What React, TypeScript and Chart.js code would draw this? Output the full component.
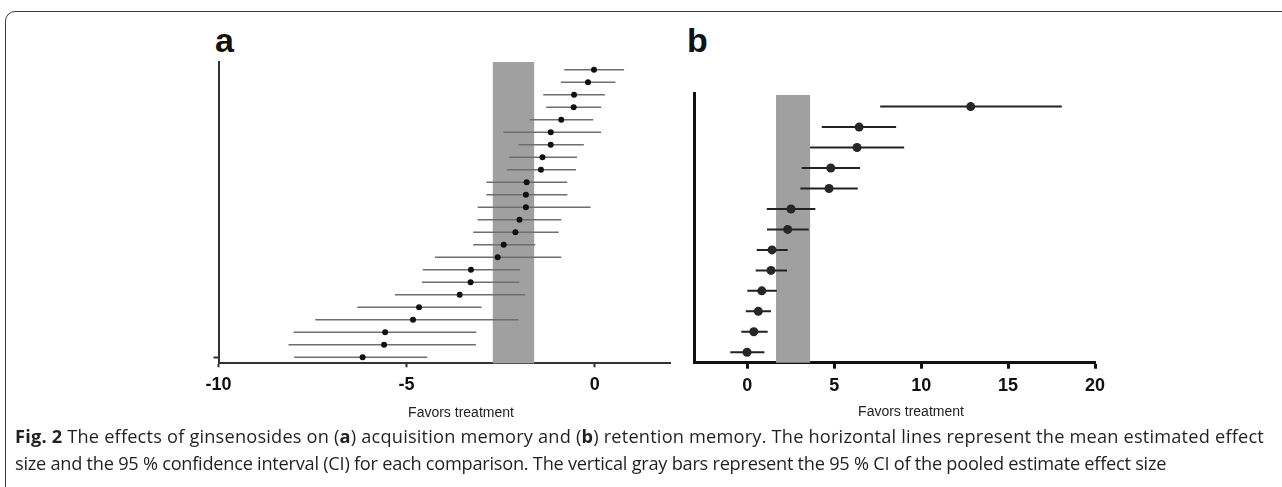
import React, { useEffect, useRef } from "react";
import { Chart, registerables } from "chart.js";

Chart.register(...registerables);

// ---------- Panel a: acquisition memory (rows listed top to bottom) ----------
const meanA = [-0.02, -0.18, -0.55, -0.56, -0.89, -1.17, -1.17, -1.39, -1.43, -1.81, -1.83, -1.83, -2.0, -2.11, -2.42, -2.58, -3.29, -3.3, -3.59, -4.67, -4.83, -5.57, -5.6, -6.17];
const lowA = [-0.81, -0.9, -1.37, -1.29, -1.73, -2.43, -2.03, -2.27, -2.33, -2.88, -2.88, -3.11, -3.11, -3.23, -3.23, -4.25, -4.57, -4.59, -5.31, -6.31, -7.43, -8.0, -8.14, -7.99];
const highA = [0.78, 0.55, 0.27, 0.17, -0.04, 0.17, -0.29, -0.47, -0.5, -0.73, -0.73, -0.11, -0.89, -0.96, -1.58, -0.89, -1.99, -2.0, -1.85, -3.01, -2.03, -3.15, -3.16, -4.45];
const pooledA = [-2.71, -1.61];
const ticksA = [-10, -5, 0];
const yTicksA = [0];

// ---------- Panel b: retention memory (rows listed top to bottom) ----------
const meanB = [12.85, 6.43, 6.31, 4.8, 4.7, 2.51, 2.32, 1.42, 1.36, 0.83, 0.63, 0.37, -0.02];
const lowB = [7.64, 4.28, 3.61, 3.13, 3.05, 1.12, 1.13, 0.54, 0.48, 0.0, -0.09, -0.35, -0.98];
const highB = [18.09, 8.56, 9.02, 6.48, 6.35, 3.91, 3.53, 2.32, 2.28, 1.69, 1.36, 1.17, 0.98];
const pooledB = [1.65, 3.61];
const ticksB = [0, 5, 10, 15, 20];
const yTicksB: number[] = [];

const axisTitle = "Favors treatment";

const bandPlugin = {
  id: "pooledBand",
  beforeDatasetsDraw(chart: any, _args: any, opts: any) {
    const { ctx, chartArea, scales } = chart;
    const x = scales.x;
    const y = scales.y;
    const x0 = x.getPixelForValue(opts.range[0]);
    const x1 = x.getPixelForValue(opts.range[1]);
    const top = Math.max(chartArea.top, y.getPixelForValue(opts.top));
    ctx.save();
    ctx.fillStyle = opts.color;
    ctx.fillRect(x0, top, x1 - x0, chartArea.bottom - top);
    ctx.restore();
  },
};

type PanelSpec = {
  mean: number[];
  low: number[];
  high: number[];
  pooled: number[];
  bandTop: number;
  xTicks: number[];
  yTicks: number[];
  xMin: number;
  xMax: number;
  yMin: number;
  yMax: number;
  ciColor: string;
  ciWidth: number;
  dotColor: string;
  dotRadius: number;
  axisColor: string;
  axisWidth: number;
  xTickLen: number;
  yTickLen: number;
  padding: { left: number; right: number; top: number; bottom: number };
  yAxisWidth: number;
  xAxisHeight: number;
};

function makeConfig(s: PanelSpec): any {
  const n = s.mean.length;
  const row = (i: number) => n - 1 - i;
  const points = s.mean.map((m, i) => ({ x: m, y: row(i) }));
  const ci: any[] = [];
  s.mean.forEach((_, i) => {
    ci.push({ x: s.low[i], y: row(i) });
    ci.push({ x: s.high[i], y: row(i) });
    ci.push({ x: null, y: null });
  });
  return {
    type: "scatter",
    data: {
      datasets: [
        {
          data: points,
          pointRadius: s.dotRadius,
          pointHoverRadius: s.dotRadius,
          pointBackgroundColor: s.dotColor,
          pointBorderColor: s.dotColor,
          pointBorderWidth: 0,
          showLine: false,
        },
        {
          data: ci,
          showLine: true,
          spanGaps: false,
          borderColor: s.ciColor,
          borderWidth: s.ciWidth,
          pointRadius: 0,
          pointHoverRadius: 0,
          borderCapStyle: "butt",
        },
      ],
    },
    options: {
      animation: false,
      responsive: false,
      devicePixelRatio: 1,
      layout: { padding: s.padding },
      plugins: {
        legend: { display: false },
        tooltip: { enabled: false },
        pooledBand: { range: s.pooled, top: s.bandTop, color: "#a0a0a0" },
      },
      scales: {
        x: {
          type: "linear",
          min: s.xMin,
          max: s.xMax,
          afterBuildTicks: (sc: any) => {
            sc.ticks = s.xTicks.map((v) => ({ value: v }));
          },
          afterFit: (sc: any) => {
            sc.height = s.xAxisHeight;
          },
          grid: {
            drawOnChartArea: false,
            drawTicks: true,
            tickLength: s.xTickLen,
            tickColor: s.axisColor,
            tickWidth: s.axisWidth,
          },
          border: { display: true, color: s.axisColor, width: s.axisWidth },
          ticks: {
            color: "#111",
            padding: 7,
            font: { family: "Liberation Sans, Arial, sans-serif", size: 18, weight: "bold" },
            callback: (v: any) => String(v),
          },
        },
        y: {
          type: "linear",
          min: s.yMin,
          max: s.yMax,
          afterBuildTicks: (sc: any) => {
            sc.ticks = s.yTicks.map((v) => ({ value: v }));
          },
          afterFit: (sc: any) => {
            sc.width = s.yAxisWidth;
          },
          grid: {
            drawOnChartArea: false,
            drawTicks: true,
            tickLength: s.yTickLen,
            tickColor: s.axisColor,
            tickWidth: s.axisWidth,
          },
          border: { display: true, color: s.axisColor, width: s.axisWidth },
          ticks: { display: true, callback: () => "" },
        },
      },
    },
    plugins: [bandPlugin],
  };
}

function Panel(props: { spec: PanelSpec; left: number; top: number; w: number; h: number }) {
  const ref = useRef<HTMLCanvasElement>(null);
  useEffect(() => {
    const chart = new Chart(ref.current as HTMLCanvasElement, makeConfig(props.spec));
    return () => chart.destroy();
  }, []);
  return (
    <canvas
      ref={ref}
      width={props.w}
      height={props.h}
      style={{ position: "absolute", left: props.left, top: props.top, width: props.w, height: props.h }}
    />
  );
}

const specA: PanelSpec = {
  mean: meanA,
  low: lowA,
  high: highA,
  pooled: pooledA,
  bandTop: 23.62,
  xTicks: ticksA,
  yTicks: yTicksA,
  xMin: -10,
  xMax: 2,
  yMin: -0.48,
  yMax: 23.62,
  ciColor: "#6e6e6e",
  ciWidth: 1.6,
  dotColor: "#111111",
  dotRadius: 3,
  axisColor: "#333333",
  axisWidth: 2,
  xTickLen: 4,
  yTickLen: 5,
  padding: { left: 0, right: 40, top: 12, bottom: 0 },
  yAxisWidth: 68.5,
  xAxisHeight: 66.7,
};

const specB: PanelSpec = {
  mean: meanB,
  low: lowB,
  high: highB,
  pooled: pooledB,
  bandTop: 12.57,
  xTicks: ticksB,
  yTicks: yTicksB,
  xMin: -3.07,
  xMax: 20,
  yMin: -0.51,
  yMax: 12.65,
  ciColor: "#222222",
  ciWidth: 2,
  dotColor: "#262626",
  dotRadius: 4.5,
  axisColor: "#111111",
  axisWidth: 3,
  xTickLen: 6,
  yTickLen: 0,
  padding: { left: 0, right: 55, top: 43.3, bottom: 0 },
  yAxisWidth: 64,
  xAxisHeight: 67.3,
};

const labelFont = "Liberation Sans, Arial, sans-serif";

export default function App() {
  return (
    <div
      style={{
        position: "absolute",
        left: 0,
        top: 0,
        width: 1282,
        height: 487,
        overflow: "hidden",
        background: "#ffffff",
      }}
    >
      <div
        style={{
          position: "absolute",
          left: 5,
          top: 11,
          width: 1320,
          height: 540,
          border: "1.5px solid #3a3a3a",
          borderRadius: 10,
          boxSizing: "border-box",
        }}
      />
      <div style={{ position: "absolute", left: 215, top: 23, font: `bold 34px ${labelFont}`, lineHeight: "34px", color: "#111" }}>a</div>
      <div style={{ position: "absolute", left: 687, top: 23, font: `bold 34px ${labelFont}`, lineHeight: "34px", color: "#111" }}>b</div>

      <Panel spec={specA} left={150} top={50} w={560} h={380} />
      <Panel spec={specB} left={630} top={50} w={520} h={380} />

      <div style={{ position: "absolute", left: 461, top: 405, transform: "translateX(-50%)", font: `14px ${labelFont}`, lineHeight: "14px", color: "#222", whiteSpace: "nowrap" }}>
        {axisTitle}
      </div>
      <div style={{ position: "absolute", left: 911, top: 404, transform: "translateX(-50%)", font: `14px ${labelFont}`, lineHeight: "14px", color: "#222", whiteSpace: "nowrap" }}>
        {axisTitle}
      </div>

      <div
        style={{
          position: "absolute",
          left: 15,
          top: 423,
          fontFamily: "'Open Sans', sans-serif",
          fontSize: 18.2,
          lineHeight: "27px",
          color: "#231f20",
          whiteSpace: "nowrap",
        }}
      >
        <div style={{ letterSpacing: "0.2px" }}>
          <b>Fig. 2</b> The effects of ginsenosides on (<b>a</b>) acquisition memory and (<b>b</b>) retention memory. The horizontal lines represent the mean estimated effect
        </div>
        <div style={{ letterSpacing: "-0.25px" }}>
          size and the 95 % confidence interval (CI) for each comparison. The vertical gray bars represent the 95 % CI of the pooled estimate effect size
        </div>
      </div>
    </div>
  );
}
